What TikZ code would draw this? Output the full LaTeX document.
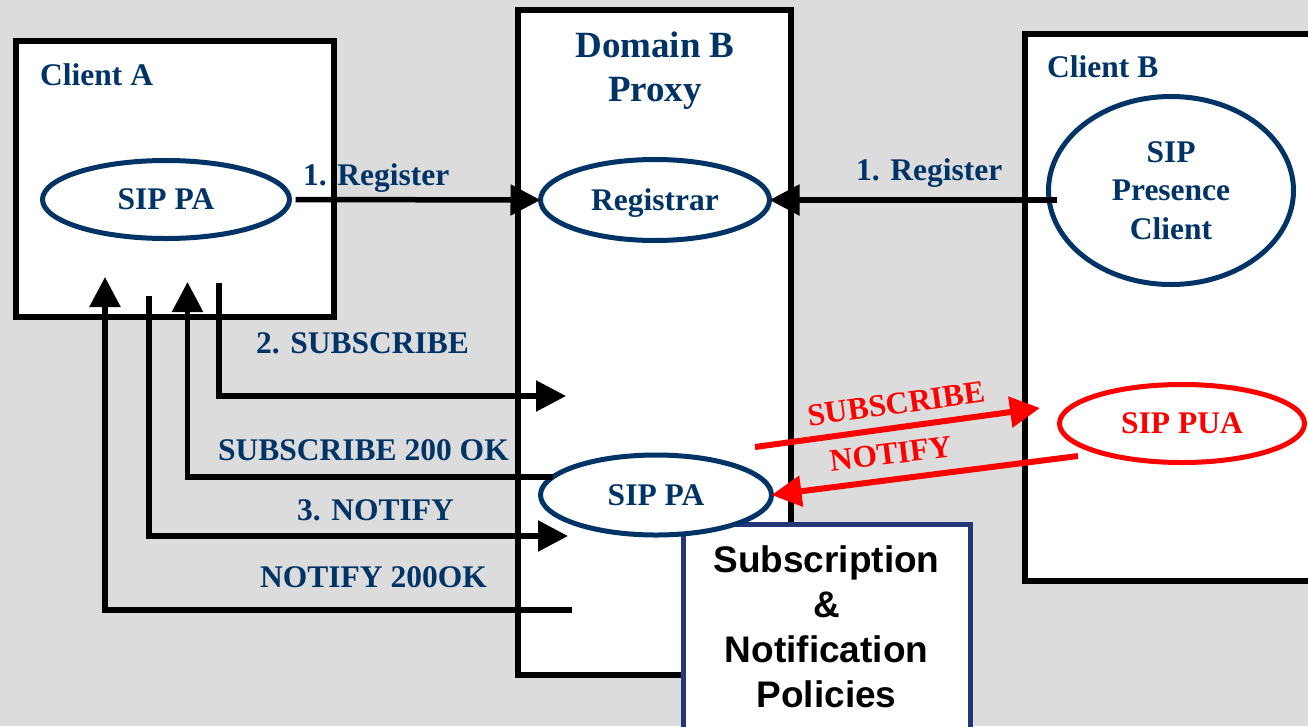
\documentclass[tikz,border=0pt]{standalone}
\usepackage{fontspec}
\setmainfont{Liberation Serif}
\newfontfamily\policyfont{Liberation Sans}
\usetikzlibrary{arrows.meta,shapes.geometric,calc}
\definecolor{bg}{RGB}{220,220,220}
\definecolor{navy}{RGB}{0,51,102}
\definecolor{polblue}{RGB}{35,55,120}

\begin{document}
\begin{tikzpicture}[x=1pt,y=-1pt,
  box/.style={rectangle,draw=black,line width=6pt,fill=white,outer sep=0pt,inner sep=0pt,anchor=north west},
  lbl/.style={text=navy,font=\bfseries\fontsize{31.5}{38}\selectfont,inner sep=0pt,anchor=base west},
  oval/.style={ellipse,draw=navy,line width=5pt,fill=white,inner sep=0pt,outer sep=0pt,text depth=0pt,
    text=navy,font=\bfseries\fontsize{31.5}{38.5}\selectfont,align=center},
  conn/.style={line width=5.5pt,-{Triangle[length=30pt,width=30pt]}},
  redconn/.style={draw=red,line width=6pt,-{Triangle[length=30pt,width=30pt]}},
  redlbl/.style={text=red,font=\bfseries\fontsize{31.5}{38}\selectfont,inner sep=0pt,anchor=base},
]
% canvas
\fill[bg] (0,0) rectangle (1308,726);
\useasboundingbox (0,0) rectangle (1308,726);
\clip (0,0) rectangle (1308,726);

% containers
\node[box,minimum width=273,minimum height=665] (proxy) at (518,10) {};
\node[box,minimum width=318,minimum height=276] (clientA) at (16,41) {};
\node[box,minimum width=330,minimum height=547] (clientB) at (1025,34) {};
\node[box,draw=polblue,line width=5pt,minimum width=287,minimum height=260] (pol) at (683,524) {};

% titles
\node[lbl] (tA) at (40,85) {Client A};
\node[lbl] (tB) at (1047,77) {Client B};
\node[text=navy,font=\bfseries\fontsize{37}{44}\selectfont,align=center,inner sep=0pt] (tProxy) at (655,71) {Domain B\\Proxy};

% policy box text
\node[font=\policyfont\bfseries\fontsize{37}{45}\selectfont,align=center,inner sep=0pt] (polText) at (826.5,626.5) {Subscription\\\&\\Notification\\Policies};

% agents
\node[oval,minimum width=247,minimum height=78] (pa1) at (166,199.5) {SIP PA};
\node[oval,minimum width=229,minimum height=81] (reg) at (655,200) {Registrar};
\node[oval,minimum width=245,minimum height=188] (pc) at (1171,190.5) {SIP\\Presence\\Client};
\node[oval,minimum width=231,minimum height=80] (pa2) at (656,495) {SIP PA};
\node[oval,draw=red,text=red,minimum width=245,minimum height=78] (pua) at (1182,423.5) {SIP PUA};

% registration
\draw[conn] ($(pa1.east)+(6,0)$) -- (reg.west);
\draw[conn] ($(pc.west |- reg.east)+(8,0)$) -- (reg.east);

% subscription / notification exchange with client A
\coordinate (subFrom) at (219,283);
\coordinate (subTo) at (566,396);
\draw[conn] (subFrom) |- (subTo);
\coordinate (okTo) at (187.5,282);
\draw[conn] (pa2.170) -| (okTo);
\coordinate (notFrom) at (149,296);
\coordinate (notTo) at (568,536);
\draw[conn] (notFrom) |- (notTo);
\coordinate (nokFrom) at (572,610);
\coordinate (nokTo) at (105,277);
\draw[conn] (nokFrom) -| (nokTo);

% exchange with the presence user agent
\coordinate (rsFrom) at (755,447);
\coordinate (rsTo) at (1040,408);
\draw[redconn] (rsFrom) -- (rsTo);
\coordinate (rnFrom) at (1078,456);
\draw[redconn] (rnFrom) -- (pa2.east);

% message labels
\node[lbl] at (303,185) {1. Register};
\node[lbl] at (856,180) {1. Register};
\node[lbl] at (256,353) {2. SUBSCRIBE};
\node[lbl] at (218,460) {SUBSCRIBE 200 OK};
\node[lbl] at (297,520) {3. NOTIFY};
\node[lbl] at (260,587) {NOTIFY 200OK};
\node[redlbl,rotate=8] at (898,414) {SUBSCRIBE};
\node[redlbl,rotate=7] at (892,464) {NOTIFY};
\end{tikzpicture}
\end{document}
